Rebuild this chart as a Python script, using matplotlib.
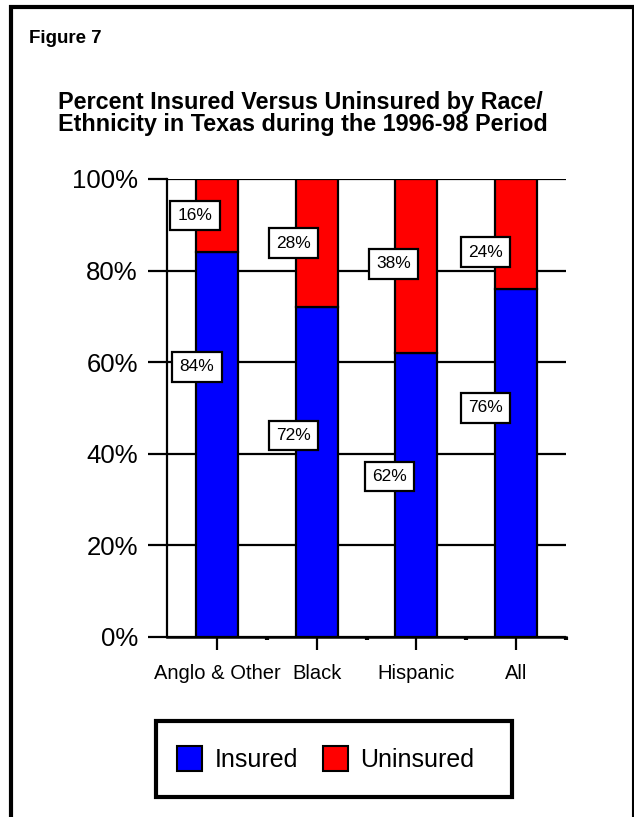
import matplotlib
matplotlib.use("Agg")
import matplotlib.pyplot as plt
from matplotlib.lines import Line2D
from matplotlib.patches import Patch, Rectangle
from matplotlib.ticker import FixedLocator, FuncFormatter

plt.rcParams['font.family'] = ['Liberation Sans', 'DejaVu Sans']

# Data
categories = ["Anglo & Other", "Black", "Hispanic", "All"]
insured = [84, 72, 62, 76]
uninsured = [16, 28, 38, 24]
y_ticks = [0, 20, 40, 60, 80, 100]
series_names = ["Insured", "Uninsured"]

# Where each value tag sits (y in percent, x as offset from the bar centre)
insured_tag_y = [59, 44, 35, 50]
uninsured_tag_y = [92, 86, 81.5, 84]
insured_tag_dx = [-0.20, -0.23, -0.27, -0.31]
uninsured_tag_dx = [-0.22, -0.23, -0.23, -0.31]

W, H = 634, 817
fig = plt.figure(figsize=(W / 100, H / 100), dpi=100)

def fx(px):
    return px / W

def fy(py):
    return 1 - py / H

# Page frame: heavy left and top rules, thin right rule
fig.add_artist(Line2D([fx(11), fx(11)], [fy(5), 0], transform=fig.transFigure,
                      color="black", lw=3.0, solid_capstyle="butt"))
fig.add_artist(Line2D([fx(9), 1], [fy(7), fy(7)], transform=fig.transFigure,
                      color="black", lw=3.0, solid_capstyle="butt"))
fig.add_artist(Line2D([fx(633), fx(633)], [fy(5), 0], transform=fig.transFigure,
                      color="black", lw=1.5, solid_capstyle="butt"))

fig.text(fx(29), fy(43), "Figure 7", fontsize=13.5, fontweight="bold",
         ha="left", va="baseline")
fig.text(fx(58), fy(108.5), "Percent Insured Versus Uninsured by Race/",
         fontsize=16.8, fontweight="bold", ha="left", va="baseline")
fig.text(fx(58), fy(130.5), "Ethnicity in Texas during the 1996-98 Period",
         fontsize=16.8, fontweight="bold", ha="left", va="baseline")

# Axes area
ax_left, ax_right, ax_top, ax_bottom = 167, 566, 179, 637
ax = fig.add_axes([fx(ax_left), fy(ax_bottom), (ax_right - ax_left) / W,
                   (ax_bottom - ax_top) / H])

x = list(range(len(categories)))
bw = 0.42
ax.bar(x, insured, width=bw, color="#0000ff", edgecolor="black", linewidth=1.6,
       zorder=3, label=series_names[0])
ax.bar(x, uninsured, width=bw, bottom=insured, color="#ff0000", edgecolor="black",
       linewidth=1.6, zorder=3, label=series_names[1])

ax.set_xlim(-0.5, 3.5)
ax.set_ylim(0, 100)

for sp in ("top", "right"):
    ax.spines[sp].set_visible(False)
ax.spines["left"].set_linewidth(1.6)
ax.spines["bottom"].set_linewidth(1.8)
ax.spines["bottom"].set_zorder(4)

ax.yaxis.set_major_locator(FixedLocator(y_ticks))
ax.yaxis.set_major_formatter(FuncFormatter(lambda v, p: f"{int(v)}%"))
ax.yaxis.grid(True, color="black", linewidth=1.6)
ax.set_axisbelow(True)
ax.tick_params(axis="y", length=14, width=1.6, pad=7, labelsize=18.5)

ax.set_xticks(x)
ax.set_xticklabels(categories)
ax.set_xticks([0.5, 1.5, 2.5, 3.5], minor=True)
ax.tick_params(axis="x", which="major", length=9.5, width=1.6, pad=10,
               labelsize=14.5)
ax.tick_params(axis="x", which="minor", length=2.5, width=3)

tag_box = dict(boxstyle="square,pad=0.42", facecolor="white", edgecolor="black",
               linewidth=1.6)
for i in x:
    ax.text(i + insured_tag_dx[i], insured_tag_y[i], f"{insured[i]}%",
            ha="center", va="center", fontsize=12.5, bbox=tag_box, zorder=5)
    ax.text(i + uninsured_tag_dx[i], uninsured_tag_y[i], f"{uninsured[i]}%",
            ha="center", va="center", fontsize=12.5, bbox=tag_box, zorder=5)

# Legend box drawn as its own frame, legend entries placed inside it
fig.add_artist(Rectangle((fx(156), fy(797)), fx(512) - fx(156), fy(721) - fy(797),
                         transform=fig.transFigure, facecolor="white",
                         edgecolor="black", linewidth=3, zorder=1))
handles = [Patch(facecolor="#0000ff", edgecolor="black", linewidth=1.5),
           Patch(facecolor="#ff0000", edgecolor="black", linewidth=1.5)]
leg = fig.legend(handles, series_names, loc="center left",
                 bbox_to_anchor=(fx(177), fy(759)), ncol=2, fontsize=18,
                 frameon=False, borderpad=0, borderaxespad=0,
                 handlelength=1.0, handleheight=1.12, handletextpad=0.5,
                 columnspacing=1.0)
leg.set_zorder(2)

fig.savefig("out.png", dpi=100)
